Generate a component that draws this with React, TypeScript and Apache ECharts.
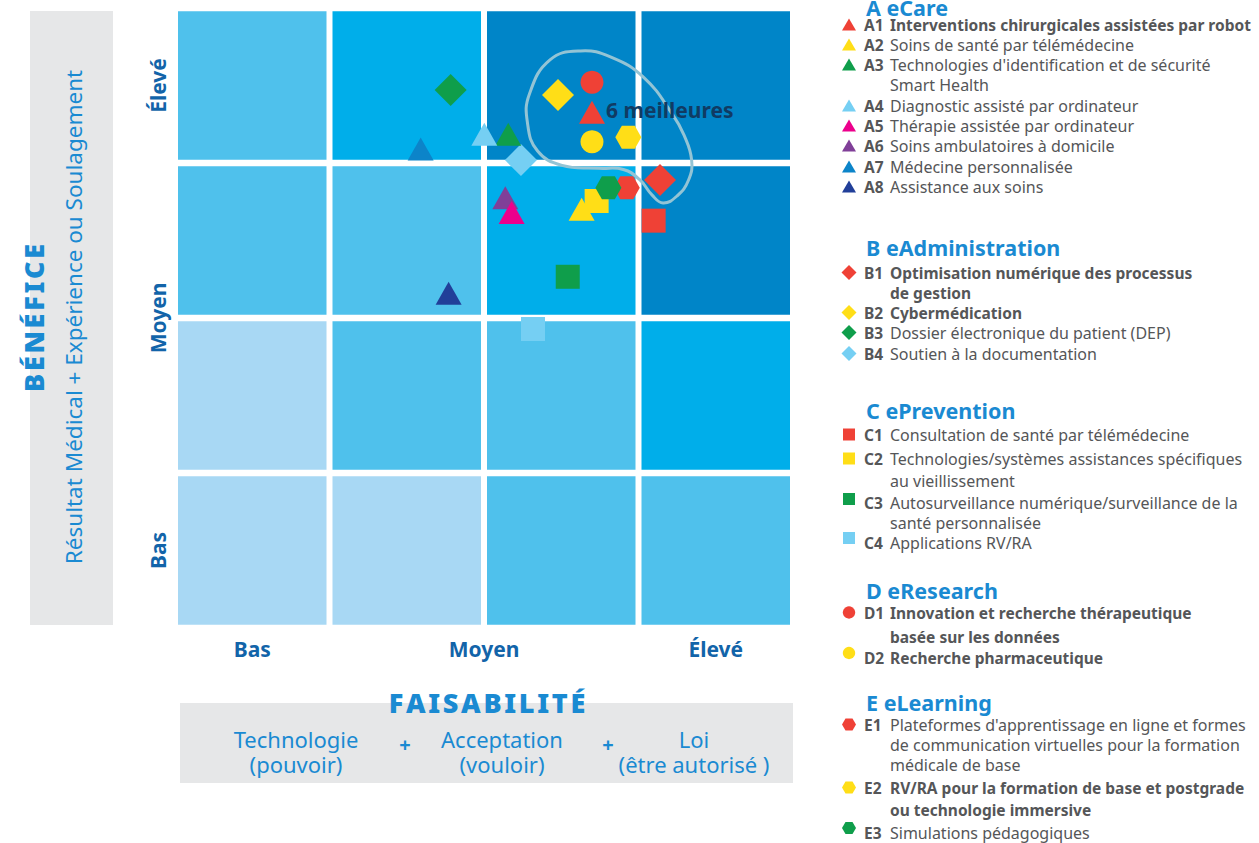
import React, { useEffect, useRef } from 'react';
import * as echarts from 'echarts';

// ---------- DATA ----------
const levelTicks = [0.5, 2, 3.5];
const levelNames = ['Bas', 'Moyen', 'Élevé'];

// cell intensity levels, rows from bottom (Bas) to top (Élevé), cols left→right
const cellLevels = [
  [0, 0, 1, 1],
  [0, 1, 1, 2],
  [1, 1, 2, 3],
  [1, 2, 3, 3],
];

const groupKeys = ['A', 'B', 'C', 'D', 'E'];
const groupTitles = ['A eCare', 'B eAdministration', 'C ePrevention', 'D eResearch', 'E eLearning'];

const codes = ['A1', 'A2', 'A3', 'A4', 'A5', 'A6', 'A7', 'A8', 'B1', 'B2', 'B3', 'B4', 'C1', 'C2', 'C3', 'C4', 'D1', 'D2', 'E1', 'E2', 'E3'];
const feasibility = [2.699, 2.632, 2.157, 2.002, 2.179, 2.138, 1.59, 1.771, 3.139, 2.479, 1.784, 2.239, 3.098, 2.729, 2.542, 2.317, 2.699, 2.699, 2.924, 2.934, 2.805];
const benefit = [3.327, 2.701, 3.185, 3.185, 2.681, 2.776, 3.09, 2.159, 2.89, 3.439, 3.471, 3.019, 2.628, 2.755, 2.266, 1.929, 3.521, 3.137, 2.841, 3.166, 2.841];
const labels = [
  'Interventions chirurgicales assistées par robot',
  'Soins de santé par télémédecine',
  "Technologies d'identification et de sécurité\nSmart Health",
  'Diagnostic assisté par ordinateur',
  'Thérapie assistée par ordinateur',
  'Soins ambulatoires à domicile',
  'Médecine personnalisée',
  'Assistance aux soins',
  'Optimisation numérique des processus\nde gestion',
  'Cybermédication',
  'Dossier électronique du patient (DEP)',
  'Soutien à la documentation',
  'Consultation de santé par télémédecine',
  'Technologies/systèmes assistances spécifiques\nau vieillissement',
  'Autosurveillance numérique/surveillance de la\nsanté personnalisée',
  'Applications RV/RA',
  'Innovation et recherche thérapeutique\nbasée sur les données',
  'Recherche pharmaceutique',
  "Plateformes d'apprentissage en ligne et formes\nde communication virtuelles pour la formation\nmédicale de base",
  'RV/RA pour la formation de base et postgrade\nou technologie immersive',
  'Simulations pédagogiques',
];
const bestCodes = ['A1', 'B1', 'B2', 'D1', 'D2', 'E2'];
const bestLabel = '6 meilleures';
// outline around the best six (data units)
const bestOutline = [
  [2.625, 3.723], [2.822, 3.683], [3.035, 3.551], [3.22, 3.314], [3.294, 3.181], [3.344, 3.019],
  [3.324, 2.89], [3.249, 2.787], [3.159, 2.742], [3.087, 2.794], [3.008, 2.892], [2.902, 2.958],
  [2.744, 2.966], [2.505, 2.985], [2.347, 3.077], [2.281, 3.261], [2.294, 3.445], [2.427, 3.665],
];
const bestLabelPos = [2.79, 3.342];

const yAxisTitle = 'BÉNÉFICE';
const yAxisSubtitle = 'Résultat Médical + Expérience ou Soulagement';
const xAxisTitle = 'FAISABILITÉ';
const xAxisParts = [['Technologie', '(pouvoir)'], ['Acceptation', '(vouloir)'], ['Loi', '(être autorisé )']];

// ---------- STYLE ----------
const FONT = '"Noto Sans", sans-serif';
const BLUE = '#1a8ad2';
const AXIS_BLUE = '#1264a9';
const TEXT_GRAY = '#555658';
const levelColors = ['#a8d8f4', '#4fc1ec', '#00aeea', '#0085c8'];
const shapeByGroup: Record<string, string> = { A: 'triangle', B: 'diamond', C: 'square', D: 'circle', E: 'hexagon' };
const HEX = 'path://M-1,0L-0.5,-0.866L0.5,-0.866L1,0L0.5,0.866L-0.5,0.866Z';
const markerSymbol: Record<string, string> = { triangle: 'triangle', diamond: 'diamond', square: 'rect', circle: 'circle', hexagon: HEX };
const markerSize: Record<string, number[]> = { triangle: [26, 23], diamond: [32, 32], square: [24, 24], circle: [23, 23], hexagon: [26, 23] };
const RED = '#ef4136', YEL = '#ffde17', GRN = '#0f9e4b', LBL = '#75cff3';
const colorByCode: Record<string, string> = {
  A1: RED, A2: YEL, A3: GRN, A4: LBL, A5: '#ec008c', A6: '#803f98', A7: '#0c84c9', A8: '#213f99',
  B1: RED, B2: YEL, B3: GRN, B4: LBL, C1: RED, C2: YEL, C3: GRN, C4: LBL, D1: RED, D2: YEL, E1: RED, E2: YEL, E3: GRN,
};
const drawOrder = ['C1', 'C2', 'C3', 'C4', 'B1', 'B2', 'B3', 'B4', 'D1', 'D2', 'E1', 'E2', 'E3', 'A1', 'A2', 'A3', 'A4', 'A6', 'A5', 'A7', 'A8'];

// legend layout (pixels)
const LEG_ICON_X = 849;
const LEG_CODE_X = 864;
const LEG_TEXT_X = 890;
const headerY = [7, 247, 410, 590, 702];
const itemY: Record<string, number> = {
  A1: 25, A2: 45, A3: 65, A4: 106, A5: 126, A6: 146, A7: 167, A8: 187,
  B1: 273, B2: 313, B3: 333, B4: 354,
  C1: 435, C2: 459, C3: 503, C4: 543,
  D1: 613, D2: 658,
  E1: 725, E2: 788, E3: 833,
};
const iconDy: Record<string, number> = { C3: -4, C4: -5, D2: -5, E3: -5 };
const lineGap: Record<string, number> = { C2: 22, D1: 23.5, E2: 22 };

function legendIcon(shape: string, x: number, y: number, color: string): any {
  const style = { fill: color };
  if (shape === 'triangle') return { type: 'polygon', shape: { points: [[x - 7, y + 6], [x + 7, y + 6], [x, y - 6]] }, style };
  if (shape === 'diamond') return { type: 'polygon', shape: { points: [[x - 7.5, y], [x, y - 7.5], [x + 7.5, y], [x, y + 7.5]] }, style };
  if (shape === 'square') return { type: 'rect', shape: { x: x - 6, y: y - 6, width: 12, height: 12 }, style };
  if (shape === 'circle') return { type: 'circle', shape: { cx: x, cy: y, r: 6.2 }, style };
  return { type: 'polygon', shape: { points: [[x - 7, y], [x - 3.5, y - 6], [x + 3.5, y - 6], [x + 7, y], [x + 3.5, y + 6], [x - 3.5, y + 6]] }, style };
}

const spaced = (s: string, sp: string) => s.split('').join(sp);

function buildGraphic(): any[] {
  const els: any[] = [];
  // left panel
  els.push({ type: 'rect', shape: { x: 30, y: 11, width: 83, height: 614 }, style: { fill: '#e6e7e8' }, z: 0 });
  els.push({ type: 'text', x: 33, y: 318, rotation: Math.PI / 2, style: { text: spaced(yAxisTitle, '\u200A'), fill: BLUE, font: `900 27px ${FONT}`, align: 'center', verticalAlign: 'middle' }, z: 1 });
  els.push({ type: 'text', x: 73, y: 317, rotation: Math.PI / 2, style: { text: yAxisSubtitle, fill: BLUE, font: `22.5px ${FONT}`, align: 'center', verticalAlign: 'middle' }, z: 1 });
  // bottom panel
  els.push({ type: 'rect', shape: { x: 180, y: 703, width: 613, height: 80 }, style: { fill: '#e6e7e8' }, z: 0 });
  els.push({ type: 'text', x: 487, y: 702, style: { text: spaced(xAxisTitle, '\u200A'), fill: BLUE, font: `900 27px ${FONT}`, align: 'center', verticalAlign: 'middle' }, z: 1 });
  const partX = [296, 502, 694];
  xAxisParts.forEach((p, k) => {
    p.forEach((line, li) => {
      els.push({ type: 'text', x: partX[k], y: 739 + li * 25, style: { text: line, fill: BLUE, font: `22px ${FONT}`, lineHeight: 23, align: 'center', verticalAlign: 'middle' }, z: 1 });
    });
  });
  [405, 608].forEach((x) => els.push({ type: 'text', x, y: 744, style: { text: '+', fill: BLUE, font: `bold 20px ${FONT}`, align: 'center', verticalAlign: 'middle' }, z: 1 }));

  // legend
  groupKeys.forEach((g, gi) => {
    els.push({ type: 'text', x: 866, y: headerY[gi], style: { text: groupTitles[gi], fill: BLUE, font: `bold 21.5px ${FONT}`, lineHeight: 20, align: 'left', verticalAlign: 'middle' } });
  });
  codes.forEach((code, i) => {
    const g = code[0];
    const y = itemY[code];
    const bold = bestCodes.includes(code);
    els.push(legendIcon(shapeByGroup[g], LEG_ICON_X, y + (iconDy[code] ?? -0.5), colorByCode[code]));
    els.push({ type: 'text', x: LEG_CODE_X, y, style: { text: code, fill: TEXT_GRAY, font: `bold 15.5px ${FONT}`, lineHeight: 18, align: 'left', verticalAlign: 'middle' } });
    labels[i].split('\n').forEach((line, li) => {
      els.push({ type: 'text', x: LEG_TEXT_X, y: y + li * (lineGap[code] ?? 20), style: { text: line, fill: TEXT_GRAY, font: bold ? `bold 15.5px ${FONT}` : `16px ${FONT}`, lineHeight: 18, align: 'left', verticalAlign: 'middle' } });
    });
  });
  return els;
}

function buildOption(): any {
  const cells: number[][] = [];
  cellLevels.forEach((row, r) => row.forEach((lv, c) => cells.push([c, r, lv])));

  const axisLabelBase = {
    color: AXIS_BLUE,
    fontFamily: FONT,
    fontWeight: 'bold',
    fontSize: 21,
    formatter: (v: number) => {
      const k = levelTicks.findIndex((t) => Math.abs(t - v) < 1e-6);
      return k >= 0 ? levelNames[k] : '';
    },
  };

  const series: any[] = [
    {
      type: 'custom',
      name: 'cells',
      silent: true,
      z: 1,
      encode: { x: 0, y: 1 },
      data: cells,
      renderItem: (params: any, api: any) => {
        const c = api.value(0), r = api.value(1);
        const p0 = api.coord([c, r + 1]);
        const p1 = api.coord([c + 1, r]);
        const gx = 3, gy = 3.3;
        return {
          type: 'rect',
          shape: { x: p0[0] + gx, y: p0[1] + gy, width: p1[0] - p0[0] - 2 * gx, height: p1[1] - p0[1] - 2 * gy },
          style: { fill: levelColors[api.value(2)] },
        };
      },
    },
  ];

  drawOrder.forEach((code) => {
    const i = codes.indexOf(code);
    const shape = shapeByGroup[code[0]];
    series.push({
      type: 'scatter',
      name: code,
      z: 3,
      symbol: markerSymbol[shape],
      symbolSize: markerSize[shape],
      itemStyle: { color: colorByCode[code], opacity: 1 },
      data: [[feasibility[i], benefit[i]]],
    });
  });

  series.push({
    type: 'custom',
    name: 'best',
    silent: true,
    z: 5,
    encode: { x: 0, y: 1 },
    data: [bestLabelPos],
    renderItem: (params: any, api: any) => {
      const pts = bestOutline.map((p) => api.coord(p));
      const lp = api.coord([api.value(0), api.value(1)]);
      return {
        type: 'group',
        children: [
          { type: 'polygon', shape: { points: pts, smooth: 0.45 }, style: { fill: 'none', stroke: '#93c4d5', lineWidth: 3 } },
          { type: 'text', x: lp[0], y: lp[1], style: { text: bestLabel, fill: '#103b63', font: `bold 21px ${FONT}`, align: 'left', verticalAlign: 'middle' } },
        ],
      };
    },
  });

  return {
    animation: false,
    backgroundColor: '#ffffff',
    textStyle: { fontFamily: FONT },
    grid: { left: 175, top: 8, width: 618, height: 620, containLabel: false },
    xAxis: {
      type: 'value', min: 0, max: 4, interval: 0.5,
      axisLine: { show: false }, axisTick: { show: false }, splitLine: { show: false },
      axisLabel: { ...axisLabelBase, margin: 10 },
    },
    yAxis: {
      type: 'value', min: 0, max: 4, interval: 0.5,
      axisLine: { show: false }, axisTick: { show: false }, splitLine: { show: false },
      axisLabel: { ...axisLabelBase, rotate: 90, margin: 7 },
    },
    series,
    graphic: buildGraphic(),
  };
}

export default function App() {
  const ref = useRef<HTMLDivElement>(null);
  useEffect(() => {
    if (!ref.current) return;
    const chart = echarts.init(ref.current, null, { renderer: 'svg' });
    chart.setOption(buildOption());
    return () => chart.dispose();
  }, []);
  return <div ref={ref} style={{ position: 'absolute', left: 0, top: 0, width: 1259, height: 843, background: '#fff' }} />;
}
